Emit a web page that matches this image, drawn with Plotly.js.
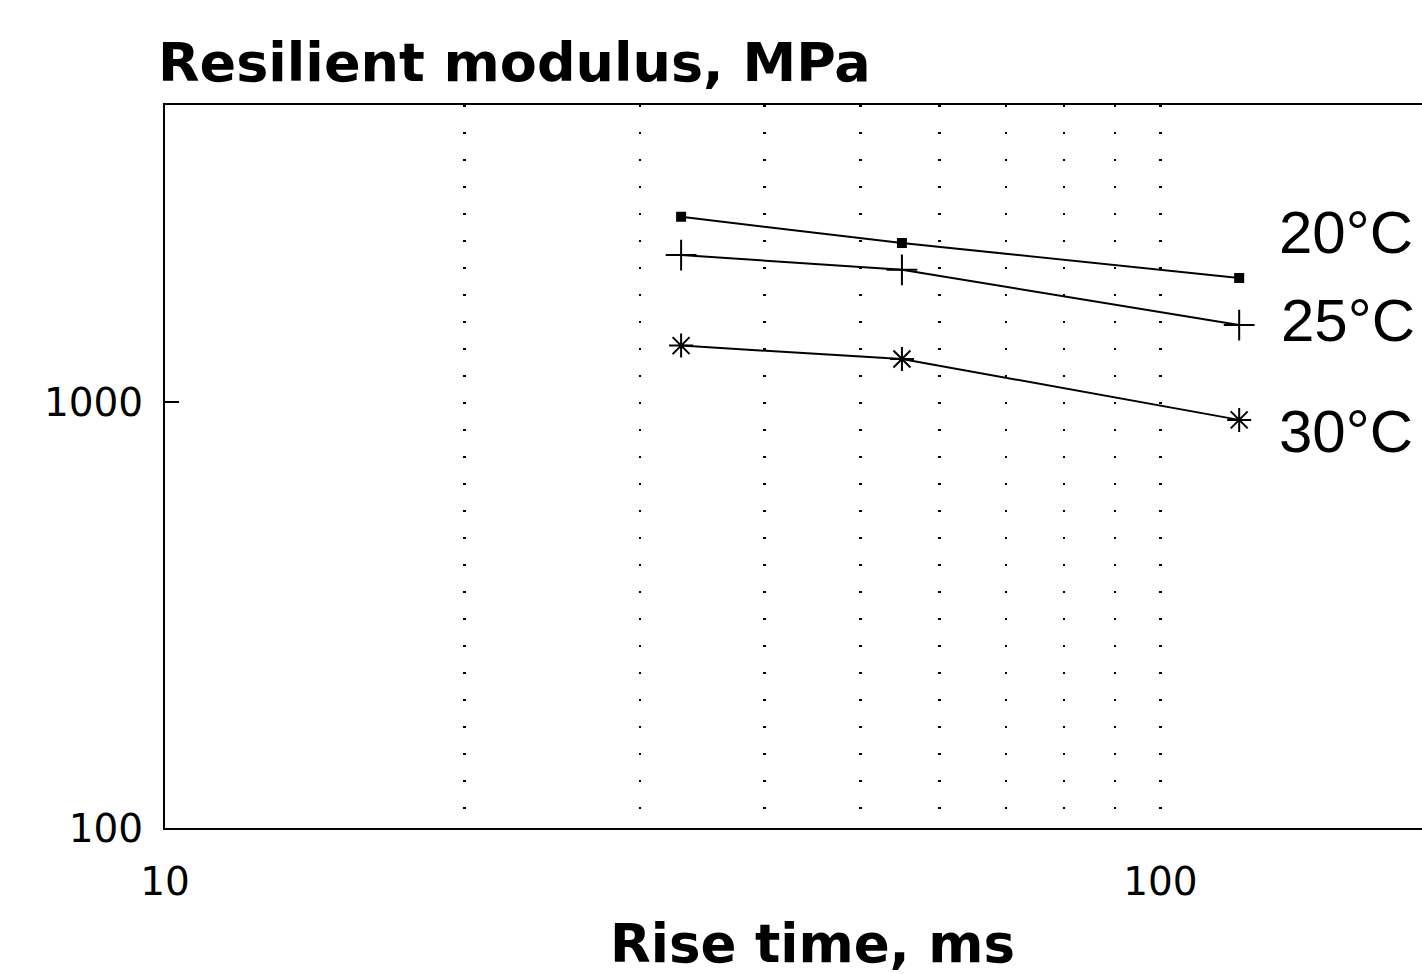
<!DOCTYPE html>
<html>
<head>
<meta charset="utf-8">
<script src="https://cdn.plot.ly/plotly-3.0.1.min.js"></script>
<style>
  html, body { margin: 0; padding: 0; background: #fff; overflow: hidden; width: 1422px; height: 974px; }
  #chart { width: 1600px; height: 974px; }
</style>
</head>
<body>
<div id="chart"></div>
<script>
// ---- data ----
const riseTime = [33, 55, 120];                 // ms
const seriesNames = ['20°C', '25°C', '30°C'];
const modulus20 = [2730, 2370, 1960];           // MPa
const modulus25 = [2220, 2050, 1520];
const modulus30 = [1360, 1265, 910];
const xTickVals = [10, 20, 30, 40, 50, 60, 70, 80, 90, 100];
const xTickText = ['10', '', '', '', '', '', '', '', '', '100'];
const yTickVals = [100, 1000];
const yTickText = ['100', '1000'];

// ---- styling ----
const seriesValues = [modulus20, modulus25, modulus30];
const markerSymbols = ['square', 'cross-thin-open', 'asterisk-open'];
const markerSizes = [8, 22, 20];
const labelShift = [[38, 46], [40, 5], [38, -12]];

const traces = seriesValues.map((vals, i) => ({
  type: 'scatter',
  mode: 'lines+markers',
  name: seriesNames[i],
  x: riseTime,
  y: vals,
  line: { color: '#000', width: 2 },
  marker: { symbol: markerSymbols[i], size: markerSizes[i], color: '#000',
            line: { color: '#000', width: 2 } },
  showlegend: false,
  hoverinfo: 'x+y+name'
}));

const annotations = seriesValues.map((vals, i) => ({
  x: Math.log10(riseTime[riseTime.length - 1]),
  y: Math.log10(vals[vals.length - 1]),
  xref: 'x', yref: 'y',
  text: seriesNames[i],
  showarrow: false,
  xanchor: 'left', yanchor: 'middle',
  xshift: labelShift[i][0], yshift: labelShift[i][1],
  font: { family: 'Liberation Sans, Arial, sans-serif', size: 60, color: '#000' }
}));

const layout = {
  width: 1600, height: 974,
  paper_bgcolor: '#fff', plot_bgcolor: '#fff',
  margin: { l: 165, r: 140, t: 105, b: 146, pad: 0 },
  title: {
    text: 'Resilient modulus, MPa',
    font: { family: 'DejaVu Sans, sans-serif', size: 54, weight: 'bold', color: '#000' },
    xref: 'container', yref: 'container',
    x: 158 / 1600, xanchor: 'left',
    y: 1 - 62 / 974, yanchor: 'middle'
  },
  xaxis: {
    type: 'log',
    range: [Math.log10(10), Math.log10(200)],
    tickmode: 'array', tickvals: xTickVals, ticktext: xTickText,
    ticks: '',
    ticklabelstandoff: 18,
    tickfont: { family: 'DejaVu Sans, sans-serif', size: 39, color: '#000' },
    showgrid: true, gridcolor: '#000', gridwidth: 2.5, griddash: '2px,25px',
    showline: true, linecolor: '#000', linewidth: 2, mirror: true,
    zeroline: false,
    title: { text: 'Rise time, ms', standoff: 28,
             font: { family: 'DejaVu Sans, sans-serif', size: 53, weight: 'bold', color: '#000' } }
  },
  yaxis: {
    type: 'log',
    range: [Math.log10(100), Math.log10(5000)],
    tickmode: 'array', tickvals: yTickVals, ticktext: yTickText,
    ticks: 'inside', ticklen: 14, tickwidth: 2, tickcolor: '#000',
    ticklabelstandoff: 12,
    tickfont: { family: 'DejaVu Sans, sans-serif', size: 39, color: '#000' },
    showgrid: false,
    showline: true, linecolor: '#000', linewidth: 2, mirror: false,
    zeroline: false
  },
  annotations: annotations
};

Plotly.newPlot('chart', traces, layout, { displayModeBar: false, staticPlot: true });
</script>
</body>
</html>
